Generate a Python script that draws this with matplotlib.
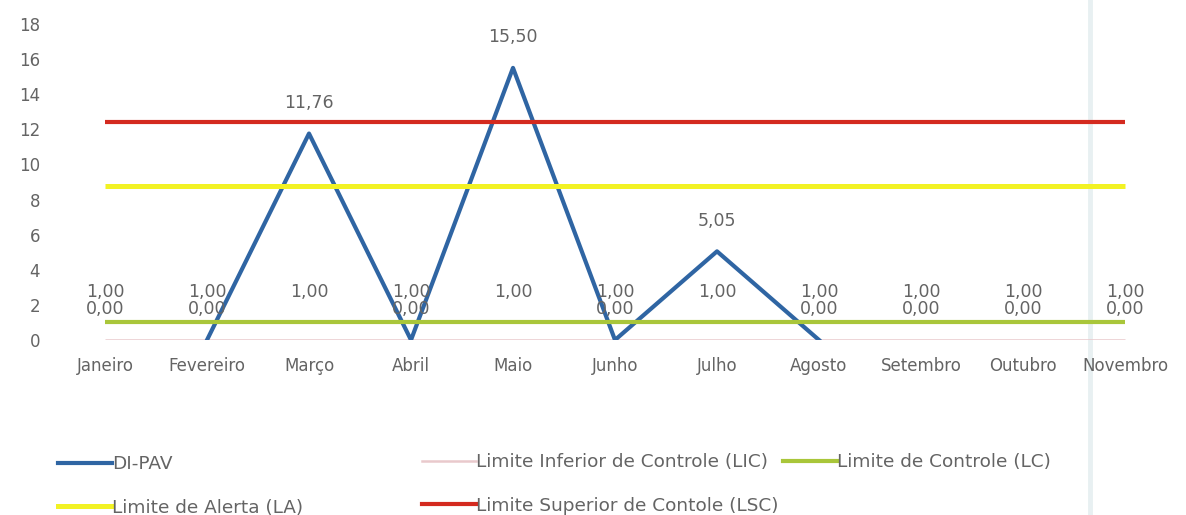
import numpy as np
import matplotlib
matplotlib.use("Agg")
import matplotlib.pyplot as plt
from matplotlib.lines import Line2D

plt.rcParams['font.family'] = ['DejaVu Sans']

months = ["Janeiro", "Fevereiro", "Março", "Abril", "Maio", "Junho",
          "Julho", "Agosto", "Setembro", "Outubro", "Novembro"]
# DI-PAV line values (no line drawn where None)
dipav = [None, 0.0, 11.76, 0.0, 15.50, 0.0, 5.05, 0.0, None, None, None]
# DI-PAV data labels shown on the chart
dipav_labels = [0.00, 0.00, 11.76, 0.00, 15.50, 0.00, 5.05, 0.00, 0.00, 0.00, 0.00]
lic = [0.0] * 11
lc = [1.0] * 11
la = [8.8] * 11
lsc = [12.4] * 11
yticks = [0, 2, 4, 6, 8, 10, 12, 14, 16, 18]

C_BLUE = "#2f65a3"
C_PINK = "#e9c9cc"
C_GREEN = "#a9c63a"
C_YEL = "#f2f224"
C_RED = "#d42a1f"
TXT = "#646464"

FS_TICK = 12.0
FS_LAB = 12.5
FS_LEG = 13.3

W, H = 1186, 515
fig = plt.figure(figsize=(W / 100, H / 100), dpi=100)
ax = fig.add_axes([54 / W, 1 - 340 / H, (1176 - 54) / W, (340 - 24) / H])
ax.patch.set_alpha(0)

x = np.arange(len(months))
dp = np.array([np.nan if v is None else v for v in dipav], dtype=float)

ax.plot(x, lic, color=C_PINK, lw=1.8, solid_capstyle='butt', zorder=2)
ax.plot(x, dp, color=C_BLUE, lw=3.0, zorder=3)
ax.plot(x, lc, color=C_GREEN, lw=3.0, solid_capstyle='butt', zorder=4)
ax.plot(x, la, color=C_YEL, lw=3.6, solid_capstyle='butt', zorder=4)
ax.plot(x, lsc, color=C_RED, lw=3.0, solid_capstyle='butt', zorder=4)

def fmt(v):
    return f"{v:.2f}".replace(".", ",")

for xi, v in zip(x, lc):
    ax.annotate(fmt(v), (xi, v), xytext=(0, 22), textcoords='offset points',
                ha='center', va='center', fontsize=FS_LAB, color=TXT, zorder=5)
for xi, v in zip(x, dipav_labels):
    ax.annotate(fmt(v), (xi, v), xytext=(0, 22), textcoords='offset points',
                ha='center', va='center', fontsize=FS_LAB, color=TXT, zorder=5)

ax.set_xlim(-0.5, len(months) - 0.5)
ax.set_ylim(0, 18)
ax.set_yticks(yticks)
ax.set_yticklabels([str(t) for t in yticks])
ax.set_xticks(x)
ax.set_xticklabels(months)
ax.tick_params(axis='both', length=0, labelsize=FS_TICK, labelcolor=TXT)
ax.tick_params(axis='y', pad=10)
ax.tick_params(axis='x', pad=12)
for s in ax.spines.values():
    s.set_visible(False)

# faint vertical border on the right
fig.add_artist(Line2D([1090 / W, 1090 / W], [0, 1], color="#e8f0f2", lw=3.5,
                      transform=fig.transFigure, zorder=0))

def leg(handles, labels, x0, y0):
    lg = fig.legend(handles, labels, loc='upper left',
                    bbox_to_anchor=(x0 / W, 1 - y0 / H),
                    bbox_transform=fig.transFigure, frameon=False,
                    handlelength=2.95, handletextpad=0.0, borderaxespad=0,
                    borderpad=0, labelspacing=1.4, fontsize=FS_LEG,
                    labelcolor=TXT)
    return lg

h_dp = Line2D([], [], color=C_BLUE, lw=3.0)
h_la = Line2D([], [], color=C_YEL, lw=3.6)
h_lic = Line2D([], [], color=C_PINK, lw=1.8)
h_lsc = Line2D([], [], color=C_RED, lw=3.0)
h_lc = Line2D([], [], color=C_GREEN, lw=3.0)

leg([h_dp, h_la], ["DI-PAV", "Limite de Alerta (LA)"], 58, 455)
leg([h_lic, h_lsc], ["Limite Inferior de Controle (LIC)",
                     "Limite Superior de Contole (LSC)"], 422, 453)
leg([h_lc], ["Limite de Controle (LC)"], 783, 453)

fig.savefig("out.png", dpi=100)
